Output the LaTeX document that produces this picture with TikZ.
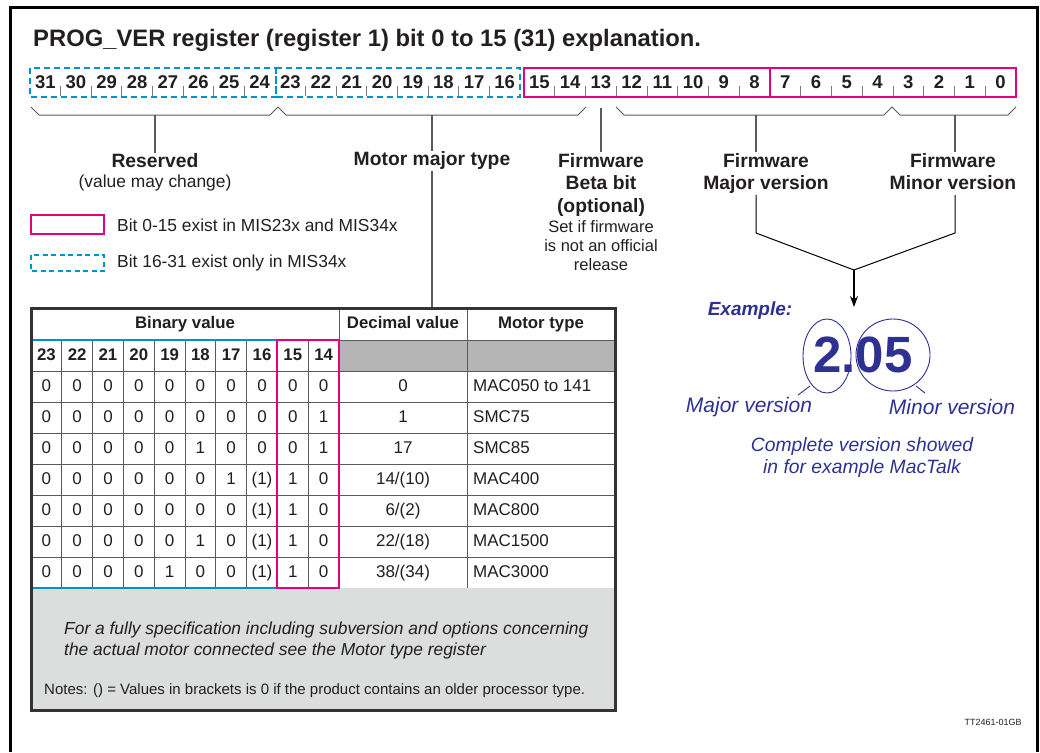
\documentclass[tikz,border=0pt]{standalone}
\usepackage{fontspec}
\setmainfont{Liberation Sans}
\usetikzlibrary{arrows.meta}
\definecolor{blu}{RGB}{0,146,208}
\definecolor{pnk}{RGB}{228,0,124}
\definecolor{ink}{RGB}{46,49,146}
\definecolor{txt}{RGB}{35,31,32}
\definecolor{grid}{RGB}{90,90,90}
\definecolor{hdrgray}{RGB}{181,181,181}
\definecolor{boxgray}{RGB}{220,221,221}
\newcommand\fsz[1]{\fontsize{#1}{#1}\selectfont}
\begin{document}
\begin{tikzpicture}[x=1pt,y=-1pt,
  every node/.style={text=txt,inner sep=1pt},
  bitnum/.style={font=\fsz{18.5}\bfseries},
  lbl/.style={font=\fsz{19.3}\bfseries,align=center},
  reg/.style={font=\fsz{17.4},align=center},
  cell/.style={font=\fsz{17},text height=12.5pt,text depth=3.5pt},
  hcell/.style={font=\fsz{16.8}\bfseries,text height=12.5pt,text depth=3.5pt},
  bracel/.style={draw=grid,line width=1pt},
  stem/.style={draw=grid,line width=1.1pt},
  bluedash/.style={draw=blu,line width=2.4pt,dash pattern=on 6pt off 4pt},
  pinkbox/.style={draw=pnk,line width=2.2pt},
  ex/.style={text=ink},
]
\useasboundingbox (0,0) rectangle (1040,752);
% outer frame
\draw[line width=3pt] (10,752) -- (10,7.5) -- (1037.5,7.5) -- (1037.5,752);
% title
\node[anchor=west,font=\fsz{23.8}\bfseries] (title) at (32,40) {PROG\_VER register (register 1) bit 0 to 15 (31) explanation.};

% bit bar
\foreach \i in {31,...,16}{
  \node[bitnum] (b\i) at ({30+(31-\i+0.5)*30.625},82) {\i};
}
\foreach \i in {15,...,0}{
  \node[bitnum] (b\i) at ({524+(15-\i+0.5)*30.75},82) {\i};
}
\foreach \k in {1,...,7,9,10,...,15}{
  \draw[grid!80,line width=0.8pt] ({30+\k*30.625},86) -- ({30+\k*30.625},96);
}
\foreach \k in {1,...,7,9,10,...,15}{
  \draw[grid!80,line width=0.8pt] ({524+\k*30.75},86) -- ({524+\k*30.75},96);
}
\draw[bluedash] (30,68) rectangle (276,97);
\draw[bluedash] (276,68) rectangle (520,97);
\draw[pinkbox] (524,68) rectangle (1016,97);
\draw[pinkbox] (770,68) -- (770,97);

% braces
\draw[bracel] (31,107) -- (39,115) -- (270,115) -- (278,107) -- (286,115) -- (578,115) -- (586,107);
\draw[bracel] (616,107) -- (624,115) -- (884,115) -- (892,107) -- (900,115) -- (1008,115) -- (1016,107);

% labels
\node[lbl] (res) at (155,161) {Reserved};
\node[reg] (resv) at (155,182.5) {(value may change)};
\node[lbl] (mmt) at (432,161) {Motor major type};
\node[lbl,anchor=north] (fb) at (601,152) {Firmware\\[3.2pt]Beta bit\\[3.2pt](optional)};
\node[reg,font=\fsz{16.5}] (fbs) at (601,246) {Set if firmware\\[2.5pt]is not an official\\[2.5pt]release};
\node[lbl,anchor=north] (maj) at (766,152) {Firmware\\[3.2pt]Major version};
\node[lbl,anchor=north] (min) at (953,152) {Firmware\\[3.2pt]Minor version};

\coordinate (s1) at (155,115);
\coordinate (s2) at (432,115);
\coordinate (s13) at (601,108);
\coordinate (s3) at (756,115);
\coordinate (s4) at (955,115);
\draw[stem] (s1) -- (s1 |- res.north);
\draw[stem] (s2) -- (s2 |- mmt.north);
\draw[stem] (s13) -- (s13 |- fb.north);
\draw[stem] (s3) -- (s3 |- maj.north);
\draw[stem] (s4) -- (s4 |- min.north);

% convergence lines
\coordinate (mjb) at (756,233);
\coordinate (mnb) at (955,233);
\coordinate (j) at (854,270);
\coordinate (arr) at (854,307);
\draw[line width=1pt] (mjb |- maj.south) -- (mjb) -- (j);
\draw[line width=1pt] (mnb |- maj.south) -- (mnb) -- (j);
\draw[line width=1.2pt,-{Stealth[length=11pt,width=8pt]}] (j) -- (arr);

% legend
\draw[pinkbox,line width=1.8pt] (31,215) rectangle (104,234);
\node[reg,anchor=west] (lg1) at (116,225) {Bit 0-15 exist in MIS23x and MIS34x};
\draw[bluedash,line width=2pt,dash pattern=on 5pt off 3.5pt] (31,255) rectangle (104,271);
\node[reg,anchor=west] (lg2) at (116,263) {Bit 16-31 exist only in MIS34x};

% table
\fill[white] (31,308) rectangle (615,588);
\fill[boxgray] (31,588) rectangle (615,710);
\fill[hdrgray] (339,340) rectangle (615,371);
\node[hcell] (hbin) at (185,324) {Binary value};
\node[hcell] (hdec) at (403,324) {Decimal value};
\node[hcell] (hmot) at (541,324) {Motor type};
\coordinate (tbltop) at (432,308);
\draw[stem] (s2 |- mmt.south) -- (tbltop);
% grid
\draw[grid,line width=1pt] (31,340) -- (615,340);
\draw[grid,line width=1pt] (31,371) -- (615,371);
\foreach \r in {1,...,6}{
  \draw[grid,line width=1pt] (31,{371+\r*31}) -- (615,{371+\r*31});
}
\draw[grid,line width=1pt] (339,308) -- (339,588);
\draw[grid,line width=1pt] (467,308) -- (467,588);
\foreach \k in {1,...,9}{
  \draw[grid,line width=1pt] ({31+\k*30.8},340) -- ({31+\k*30.8},588);
}
\foreach \b [count=\c] in {23,22,...,14}{
  \node[hcell] (h\b) at ({31+(\c-0.5)*30.8},355.5) {\b};
}
\foreach \row [count=\r] in {
  {0,0,0,0,0,0,0,0,0,0},
  {0,0,0,0,0,0,0,0,0,1},
  {0,0,0,0,0,1,0,0,0,1},
  {0,0,0,0,0,0,1,(1),1,0},
  {0,0,0,0,0,0,0,(1),1,0},
  {0,0,0,0,0,1,0,(1),1,0},
  {0,0,0,0,1,0,0,(1),1,0}}{
  \foreach \v [count=\c] in \row {
    \node[cell] (d\r-\c) at ({31+(\c-0.5)*30.8},{371+(\r-0.5)*31}) {\v};
  }
}
\foreach \dv/\mt [count=\r] in {0/MAC050 to 141,1/SMC75,17/SMC85,{14/(10)}/MAC400,{6/(2)}/MAC800,{22/(18)}/MAC1500,{38/(34)}/MAC3000}{
  \node[cell] (dec\r) at (403,{371+(\r-0.5)*31}) {\dv};
  \node[cell,anchor=west] (mot\r) at (472,{371+(\r-0.5)*31}) {\mt};
}
\draw[draw=blu,line width=2pt] (31,340) rectangle (277,588);
\draw[pinkbox,line width=2pt] (277,340) rectangle (339,588);
\draw[draw=black!80,line width=3pt] (31,308) rectangle (615,710);
\node[anchor=north west,align=left,font=\fsz{17.4}\itshape] (spec) at (63,621) {For a fully specification including subversion and options concerning\\[3pt]the actual motor connected see the Motor type register};
\node[anchor=west,font=\fsz{15}] (notes) at (43,691) {Notes: () = Values in brackets is 0 if the product contains an older processor type.};

% example
\node[ex,font=\fsz{19}\bfseries\itshape] (exl) at (750,311) {Example:};
\node[ex,font=\fsz{51}\bfseries,inner sep=0pt] (num) at (863,355) {2.05};
\draw[ink,line width=0.9pt] (827,356) ellipse [x radius=24,y radius=37];
\draw[ink,line width=0.9pt] (893,355) ellipse [x radius=37,y radius=36];
\draw[ink,line width=0.9pt] (810,386) -- (798,395);
\draw[ink,line width=0.9pt] (916,386) -- (925,393);
\node[ex,font=\fsz{21}\itshape] (majv) at (749,407) {Major version};
\node[ex,font=\fsz{21}\itshape] (minv) at (952,407) {Minor version};
\node[ex,font=\fsz{19.3}\itshape,align=center] (cv) at (862,457.5) {Complete version showed\\[2pt]in for example MacTalk};

\node[font=\fsz{9}] (tt) at (993,722) {TT2461-01GB};
\end{tikzpicture}
\end{document}
